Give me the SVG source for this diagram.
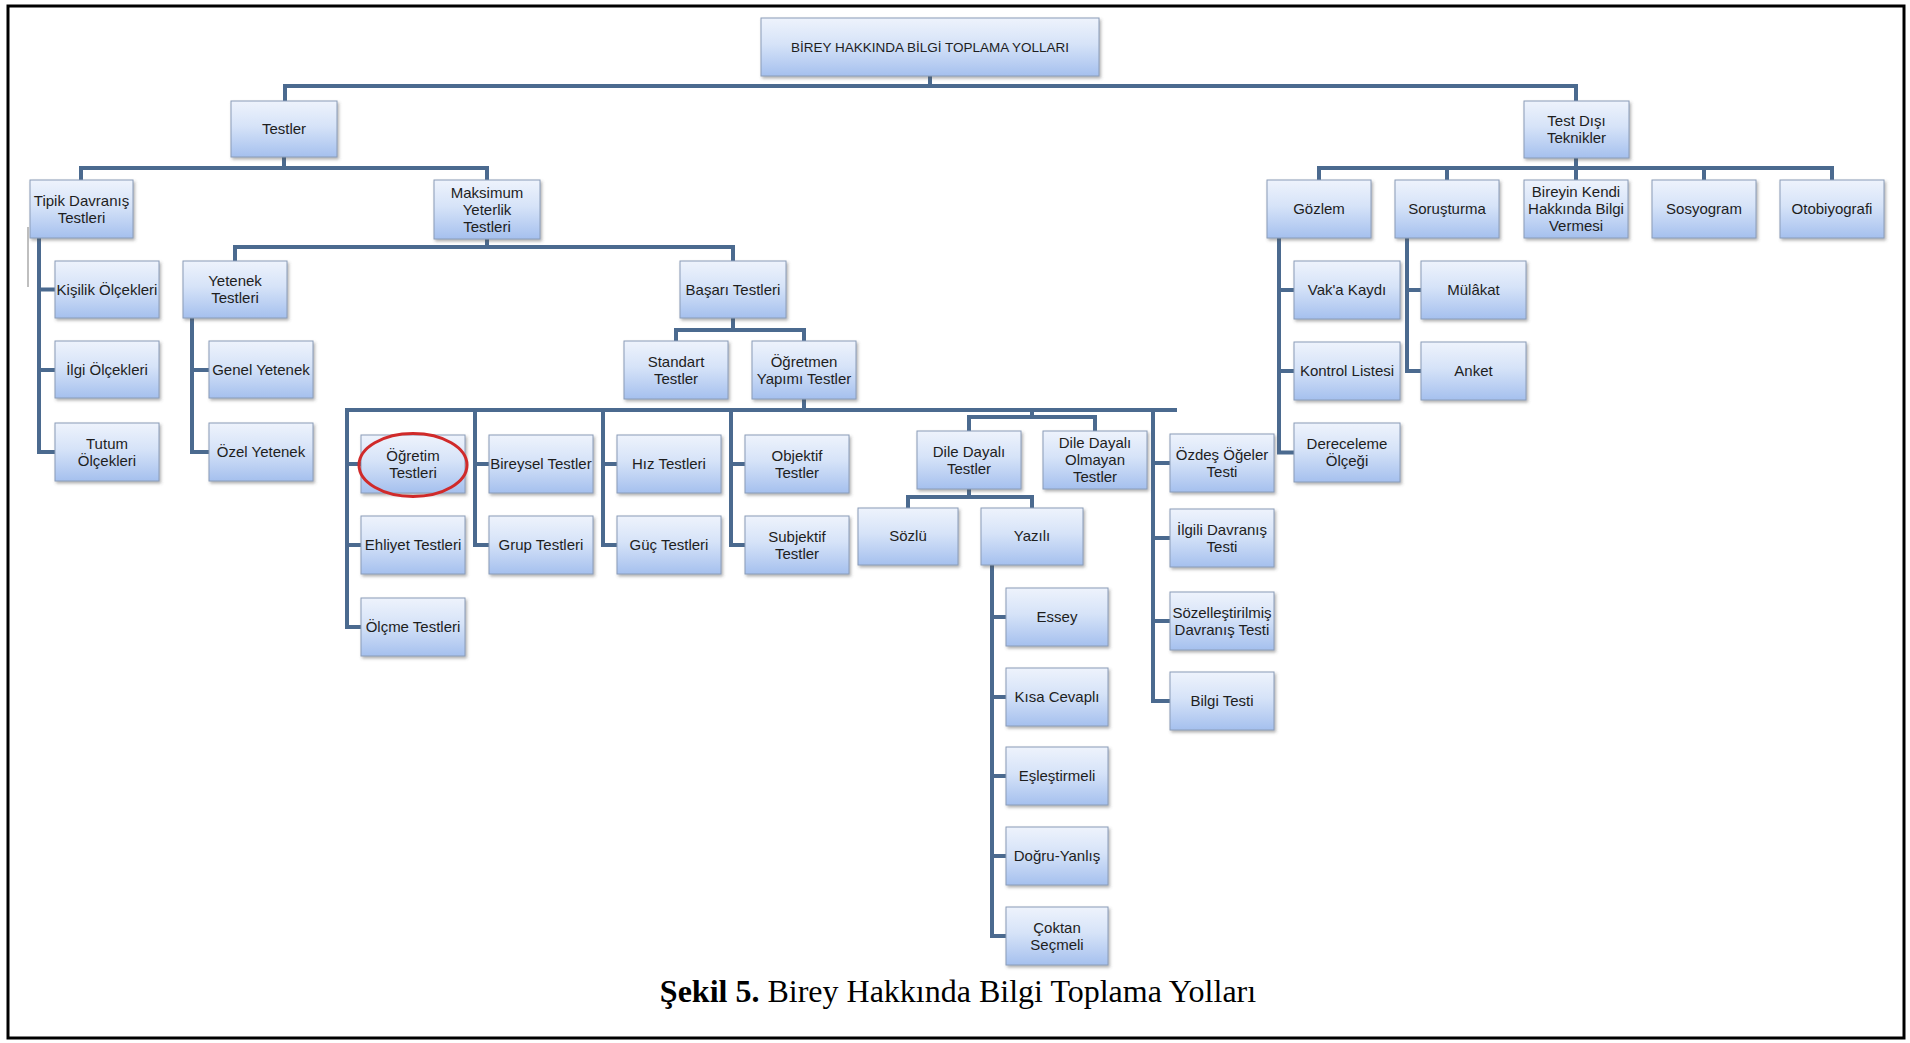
<svg xmlns="http://www.w3.org/2000/svg" width="1910" height="1043" viewBox="0 0 1910 1043">
<defs>
<linearGradient id="g" x1="0" y1="0" x2="0" y2="1">
<stop offset="0" stop-color="#eef3fc"/>
<stop offset="0.45" stop-color="#d6e3f8"/>
<stop offset="1" stop-color="#a5c0ee"/>
</linearGradient>
<filter id="sh" x="-10%" y="-10%" width="130%" height="140%">
<feDropShadow dx="1.5" dy="2" stdDeviation="1.5" flood-color="#555" flood-opacity="0.45"/>
</filter>
<style>
.b{fill:url(#g);stroke:#8a9cb8;stroke-width:1;filter:url(#sh)}
.t{font-family:"Liberation Sans",Arial,sans-serif;font-size:15px;fill:#1e1e1e;text-anchor:middle}
.c{fill:none;stroke:#4b6a8f;stroke-width:4;stroke-linejoin:miter}
.cap{font-family:"Liberation Serif","Times New Roman",serif;font-size:32px;fill:#000;text-anchor:middle}
</style>
</defs>
<rect x="0" y="0" width="1910" height="1043" fill="#fff"/>
<rect x="8" y="6" width="1896" height="1032" fill="none" stroke="#000" stroke-width="3"/>

<g id="connectors">
<path class="c" d="M930,76 V86 M285,101 V86 H1576 V101"/>
<path class="c" d="M284,156 V168 M81,180 V168 H487 V180"/>
<path class="c" d="M39,238 V452 H55 M39,289.5 H55 M39,370 H55"/>
<path d="M28,227 V287" fill="none" stroke="#aaa" stroke-width="1.5"/>
<path class="c" d="M487,239 V247 M235,261 V247 H733 V261"/>
<path class="c" d="M192,318 V452 H209 M192,370 H209"/>
<path class="c" d="M733,318 V330 M676,341 V330 H804 V341"/>
<path class="c" d="M804,399 V410 M345,410 H1177"/>
<path class="c" d="M347,410 V627 H361 M347,464 H361 M347,545 H361"/>
<path class="c" d="M475,410 V545 H489 M475,464 H489"/>
<path class="c" d="M603,410 V545 H617 M603,464 H617"/>
<path class="c" d="M731,410 V545 H745 M731,464 H745"/>
<path class="c" d="M1032,410 V417 M969,431 V417 H1095 V431"/>
<path class="c" d="M969,489 V497 M908,508 V497 H1032 V508"/>
<path class="c" d="M992,565 V936 H1006 M992,617 H1006 M992,697 H1006 M992,776 H1006 M992,856 H1006"/>
<path class="c" d="M1153,410 V701 H1170 M1153,463 H1170 M1153,538 H1170 M1153,621 H1170"/>
<path class="c" d="M1576,158 V168 M1319,180 V168 H1832 V180 M1447,168 V180 M1576,168 V180 M1704,168 V180"/>
<path class="c" d="M1279,238 V452.5 H1294 M1279,290 H1294 M1279,371 H1294"/>
<path class="c" d="M1407,238 V371 H1421 M1407,290 H1421"/>
</g>

<g id="root"><rect class="b" x="761" y="18" width="338" height="58"/><text class="t" x="930" y="52" style="font-size:13.5px">BİREY HAKKINDA BİLGİ TOPLAMA YOLLARI</text></g>
<g id="testler"><rect class="b" x="231" y="101" width="106" height="56"/><text class="t" x="284" y="134">Testler</text></g>
<g id="test-disi"><rect class="b" x="1524" y="101" width="105" height="57"/><text class="t" x="1576.5" y="126">Test Dışı</text><text class="t" x="1576.5" y="143">Teknikler</text></g>

<g id="tipik"><rect class="b" x="30" y="180" width="103" height="58"/><text class="t" x="81.5" y="205.5">Tipik Davranış</text><text class="t" x="81.5" y="222.5">Testleri</text></g>
<g id="maksimum"><rect class="b" x="434" y="180" width="106" height="59"/><text class="t" x="487" y="197.5">Maksimum</text><text class="t" x="487" y="214.5">Yeterlik</text><text class="t" x="487" y="231.5">Testleri</text></g>

<g id="kisilik"><rect class="b" x="55" y="261" width="104" height="57"/><text class="t" x="107" y="294.5">Kişilik Ölçekleri</text></g>
<g id="ilgi"><rect class="b" x="55" y="341" width="104" height="57"/><text class="t" x="107" y="374.5">İlgi Ölçekleri</text></g>
<g id="tutum"><rect class="b" x="55" y="423" width="104" height="58"/><text class="t" x="107" y="448.5">Tutum</text><text class="t" x="107" y="465.5">Ölçekleri</text></g>

<g id="yetenek"><rect class="b" x="183" y="261" width="104" height="57"/><text class="t" x="235" y="286">Yetenek</text><text class="t" x="235" y="303">Testleri</text></g>
<g id="genel"><rect class="b" x="209" y="341" width="104" height="57"/><text class="t" x="261" y="374.5">Genel Yetenek</text></g>
<g id="ozel"><rect class="b" x="209" y="423" width="104" height="58"/><text class="t" x="261" y="457">Özel Yetenek</text></g>

<g id="basari"><rect class="b" x="680" y="261" width="106" height="57"/><text class="t" x="733" y="294.5">Başarı Testleri</text></g>
<g id="standart"><rect class="b" x="624" y="341" width="104" height="58"/><text class="t" x="676" y="366.5">Standart</text><text class="t" x="676" y="383.5">Testler</text></g>
<g id="ogretmen"><rect class="b" x="752" y="341" width="104" height="58"/><text class="t" x="804" y="366.5">Öğretmen</text><text class="t" x="804" y="383.5">Yapımı Testler</text></g>

<g id="ogretim"><rect class="b" x="361" y="435" width="104" height="58"/><text class="t" x="413" y="460.5">Öğretim</text><text class="t" x="413" y="477.5">Testleri</text><ellipse cx="413" cy="465" rx="54" ry="31.5" fill="none" stroke="#d02a2a" stroke-width="3"/></g>
<g id="ehliyet"><rect class="b" x="361" y="516" width="104" height="58"/><text class="t" x="413" y="550">Ehliyet Testleri</text></g>
<g id="olcme"><rect class="b" x="361" y="598" width="104" height="58"/><text class="t" x="413" y="632">Ölçme Testleri</text></g>
<g id="bireysel"><rect class="b" x="489" y="435" width="104" height="58"/><text class="t" x="541" y="469">Bireysel Testler</text></g>
<g id="grup"><rect class="b" x="489" y="516" width="104" height="58"/><text class="t" x="541" y="550">Grup Testleri</text></g>
<g id="hiz"><rect class="b" x="617" y="435" width="104" height="58"/><text class="t" x="669" y="469">Hız Testleri</text></g>
<g id="guc"><rect class="b" x="617" y="516" width="104" height="58"/><text class="t" x="669" y="550">Güç Testleri</text></g>
<g id="objektif"><rect class="b" x="745" y="435" width="104" height="58"/><text class="t" x="797" y="460.5">Objektif</text><text class="t" x="797" y="477.5">Testler</text></g>
<g id="subjektif"><rect class="b" x="745" y="516" width="104" height="58"/><text class="t" x="797" y="541.5">Subjektif</text><text class="t" x="797" y="558.5">Testler</text></g>

<g id="dile-dayali"><rect class="b" x="917" y="431" width="104" height="58"/><text class="t" x="969" y="456.5">Dile Dayalı</text><text class="t" x="969" y="473.5">Testler</text></g>
<g id="dile-dayali-olmayan"><rect class="b" x="1043" y="431" width="104" height="58"/><text class="t" x="1095" y="448">Dile Dayalı</text><text class="t" x="1095" y="465">Olmayan</text><text class="t" x="1095" y="482">Testler</text></g>
<g id="sozlu"><rect class="b" x="858" y="508" width="100" height="57"/><text class="t" x="908" y="541">Sözlü</text></g>
<g id="yazili"><rect class="b" x="981" y="508" width="102" height="57"/><text class="t" x="1032" y="541">Yazılı</text></g>
<g id="essey"><rect class="b" x="1006" y="588" width="102" height="58"/><text class="t" x="1057" y="622">Essey</text></g>
<g id="kisa"><rect class="b" x="1006" y="668" width="102" height="58"/><text class="t" x="1057" y="702">Kısa Cevaplı</text></g>
<g id="eslestirmeli"><rect class="b" x="1006" y="747" width="102" height="58"/><text class="t" x="1057" y="781">Eşleştirmeli</text></g>
<g id="dogru-yanlis"><rect class="b" x="1006" y="827" width="102" height="58"/><text class="t" x="1057" y="861">Doğru-Yanlış</text></g>
<g id="coktan"><rect class="b" x="1006" y="907" width="102" height="58"/><text class="t" x="1057" y="932.5">Çoktan</text><text class="t" x="1057" y="949.5">Seçmeli</text></g>

<g id="ozdes"><rect class="b" x="1170" y="434" width="104" height="58"/><text class="t" x="1222" y="459.5">Özdeş Öğeler</text><text class="t" x="1222" y="476.5">Testi</text></g>
<g id="ilgili"><rect class="b" x="1170" y="509" width="104" height="58"/><text class="t" x="1222" y="534.5">İlgili Davranış</text><text class="t" x="1222" y="551.5">Testi</text></g>
<g id="sozellestirilmis"><rect class="b" x="1170" y="592" width="104" height="58"/><text class="t" x="1222" y="617.5">Sözelleştirilmiş</text><text class="t" x="1222" y="634.5">Davranış Testi</text></g>
<g id="bilgi"><rect class="b" x="1170" y="672" width="104" height="58"/><text class="t" x="1222" y="706">Bilgi Testi</text></g>

<g id="gozlem"><rect class="b" x="1267" y="180" width="104" height="58"/><text class="t" x="1319" y="214">Gözlem</text></g>
<g id="sorusturma"><rect class="b" x="1395" y="180" width="104" height="58"/><text class="t" x="1447" y="214">Soruşturma</text></g>
<g id="bireyin"><rect class="b" x="1524" y="180" width="104" height="58"/><text class="t" x="1576" y="197">Bireyin Kendi</text><text class="t" x="1576" y="214">Hakkında Bilgi</text><text class="t" x="1576" y="231">Vermesi</text></g>
<g id="sosyogram"><rect class="b" x="1652" y="180" width="104" height="58"/><text class="t" x="1704" y="214">Sosyogram</text></g>
<g id="otobiyografi"><rect class="b" x="1780" y="180" width="104" height="58"/><text class="t" x="1832" y="214">Otobiyografi</text></g>
<g id="vaka"><rect class="b" x="1294" y="261" width="106" height="58"/><text class="t" x="1347" y="295">Vak'a Kaydı</text></g>
<g id="kontrol"><rect class="b" x="1294" y="342" width="106" height="58"/><text class="t" x="1347" y="376">Kontrol Listesi</text></g>
<g id="dereceleme"><rect class="b" x="1294" y="423" width="106" height="59"/><text class="t" x="1347" y="449">Dereceleme</text><text class="t" x="1347" y="466">Ölçeği</text></g>
<g id="mulakat"><rect class="b" x="1421" y="261" width="105" height="58"/><text class="t" x="1473.5" y="295">Mülâkat</text></g>
<g id="anket"><rect class="b" x="1421" y="342" width="105" height="58"/><text class="t" x="1473.5" y="376">Anket</text></g>

<text class="cap" x="958" y="1002"><tspan font-weight="bold">Şekil 5.</tspan> Birey Hakkında Bilgi Toplama Yolları</text>
</svg>
